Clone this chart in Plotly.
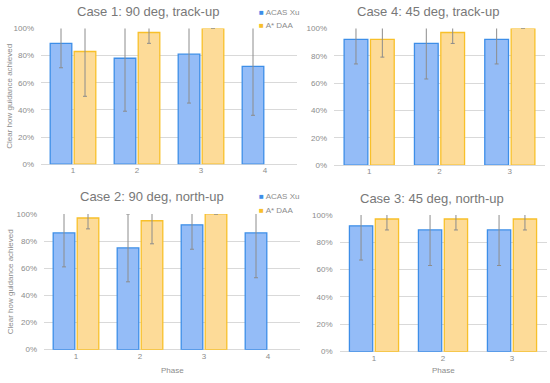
import plotly.graph_objects as go
from plotly.subplots import make_subplots

# ---- data ----
titles = ["Case 1: 90 deg, track-up", "Case 4: 45 deg, track-up",
          "Case 2: 90 deg, north-up", "Case 3: 45 deg, north-up"]
series_names = ["ACAS Xu", "A* DAA"]

case1_phase = ["1", "2", "3", "4"]
case1_acas = [89, 78, 81, 72]
case1_acas_err = [18, 39, 36, 36]
case1_astar = [83, 97, 100, None]
case1_astar_err = [33, 8, 0, 0]

case4_phase = ["1", "2", "3"]
case4_acas = [92, 89, 92]
case4_acas_err = [18, 26, 18]
case4_astar = [92, 97, 100]
case4_astar_err = [13, 8, 0]

case2_phase = ["1", "2", "3", "4"]
case2_acas = [86, 75, 92, 86]
case2_acas_err = [25, 25, 18, 33]
case2_astar = [97, 95, 100, None]
case2_astar_err = [8, 17, 0, 0]

case3_phase = ["1", "2", "3"]
case3_acas = [92, 89, 89]
case3_acas_err = [25, 26, 26]
case3_astar = [97, 97, 97]
case3_astar_err = [8, 8, 8]

yticks = [0, 20, 40, 60, 80, 100]
ytick_text = ["0%", "20%", "40%", "60%", "80%", "100%"]
ytitle = "Clear how guidance achieved"
xtitle = "Phase"

# ---- style ----
W, H = 550, 383
BLUE_FILL = "#94bcf7"
BLUE_LINE = "#3d8ee8"
ORANGE_FILL = "#fddb98"
ORANGE_LINE = "#f8c02a"
GRID = "#d9d9d9"
TXT = "#8c8c8c"
TITLE_C = "#787878"
FONT = "Liberation Sans, Arial, sans-serif"

fig = make_subplots(rows=2, cols=2)

panels = [
    (1, 1, case1_phase, case1_acas, case1_acas_err, case1_astar, case1_astar_err),
    (1, 2, case4_phase, case4_acas, case4_acas_err, case4_astar, case4_astar_err),
    (2, 1, case2_phase, case2_acas, case2_acas_err, case2_astar, case2_astar_err),
    (2, 2, case3_phase, case3_acas, case3_acas_err, case3_astar, case3_astar_err),
]

for (r, c, ph, a, ae, s, se) in panels:
    fig.add_trace(go.Bar(
        x=ph, y=a, name=series_names[0], showlegend=False,
        marker=dict(color=BLUE_FILL, line=dict(color=BLUE_LINE, width=1.3)),
        error_y=dict(type="data", array=ae, symmetric=True, color="#8c8c8c",
                     thickness=1, width=2),
    ), row=r, col=c)
    fig.add_trace(go.Bar(
        x=ph, y=s, name=series_names[1], showlegend=False,
        marker=dict(color=ORANGE_FILL, line=dict(color=ORANGE_LINE, width=1.3)),
        error_y=dict(type="data", array=se, symmetric=True, color="#8c8c8c",
                     thickness=1, width=2),
    ), row=r, col=c)

def px_x(a, b):
    return [a / W, b / W]

def px_y(top, bottom):
    return [(H - bottom) / H, (H - top) / H]

domains = {
    (1, 1): (px_x(41, 297), px_y(25, 164)),
    (1, 2): (px_x(334, 545), px_y(25, 165)),
    (2, 1): (px_x(44, 300), px_y(215, 354)),
    (2, 2): (px_x(339.5, 546.5), px_y(216, 356)),
}

for (r, c), (dx, dy) in domains.items():
    fig.update_xaxes(domain=dx, row=r, col=c, showgrid=False, showline=False,
                     zeroline=False, ticks="",
                     tickfont=dict(size=8, color=TXT, family=FONT))
    fig.update_yaxes(domain=dy, row=r, col=c, range=[0, 100], tickvals=yticks,
                     ticktext=ytick_text, showgrid=True, gridcolor=GRID,
                     gridwidth=1, zeroline=True, zerolinecolor=GRID,
                     zerolinewidth=1, showline=False, ticks="",
                     ticklabelstandoff=6,
                     tickfont=dict(size=8, color=TXT, family=FONT))

annotations = []
title_pos = [(148, 8), (428, 8), (152, 197), (432, 199)]
for t, (x, y) in zip(titles, title_pos):
    annotations.append(dict(text=t, x=x / W, y=1 - y / H, xref="paper", yref="paper",
                            xanchor="center", yanchor="middle", showarrow=False,
                            font=dict(size=13, color=TITLE_C, family=FONT)))
for yc in (95, 285):
    annotations.append(dict(text=ytitle, x=10 / W, y=1 - yc / H, xref="paper",
                            yref="paper", textangle=-90, xanchor="center",
                            yanchor="middle", showarrow=False,
                            font=dict(size=8, color=TXT, family=FONT)))
for xc in (172, 443):
    annotations.append(dict(text=xtitle, x=xc / W, y=1 - 375 / H, xref="paper",
                            yref="paper", xanchor="center", yanchor="middle",
                            showarrow=False, font=dict(size=8, color=TXT, family=FONT)))

# legends (drawn as text items beside each left-hand panel)
legend_rows = [(9, 22), (197, 211)]
for y1, y2 in legend_rows:
    for name, col, yy in ((series_names[0], BLUE_LINE, y1), (series_names[1], ORANGE_LINE, y2)):
        annotations.append(dict(
            text=f'<span style="color:{col}">■</span> {name}',
            x=257 / W, y=1 - yy / H, xref="paper", yref="paper",
            xanchor="left", yanchor="middle", showarrow=False,
            font=dict(size=8, color=TXT, family=FONT)))

fig.update_layout(
    width=W, height=H,
    margin=dict(l=0, r=0, t=0, b=0),
    paper_bgcolor="white", plot_bgcolor="white",
    barmode="group", bargap=0.25, bargroupgap=0.1,
    annotations=annotations,
    font=dict(family=FONT, color=TXT),
    showlegend=False,
)

fig.write_html("out.html", config={"displayModeBar": False},
               post_script="document.body.style.margin='0px';")
